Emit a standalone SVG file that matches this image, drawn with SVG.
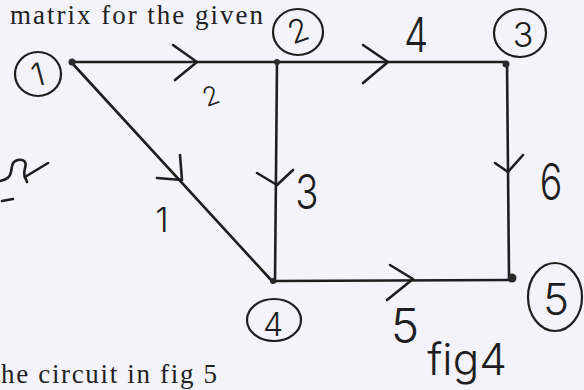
<svg xmlns="http://www.w3.org/2000/svg" width="584" height="390" viewBox="0 0 584 390">
<style>
.bg{fill:#f3f3f9}
.edge{stroke:#1e1e1e;stroke-width:2.6;fill:none;stroke-linecap:round}
.arr{stroke:#1e1e1e;stroke-width:2.6;fill:none;stroke-linecap:round;stroke-linejoin:round}
.ring{stroke:#1e1e1e;stroke-width:2.2;fill:none}
.dot{fill:#2a2a2a}
.hand{font-family:Inter,"DejaVu Sans","Liberation Sans",sans-serif;font-weight:300;fill:#1e1e1e;text-anchor:middle;font-variant-ligatures:none}
.print{font-family:"Liberation Serif",serif;fill:#222;font-size:27px}
</style>
<rect class="bg" x="0" y="0" width="584" height="390"/>
<text class="print" x="10" y="24" textLength="253" lengthAdjust="spacing">matrix for the given</text>
<text class="print" x="1" y="383" textLength="216" lengthAdjust="spacing">he circuit in fig 5</text>
<g id="connectors">
  <g id="e1-2"><line class="edge" x1="72" y1="62" x2="277" y2="62"/><polyline class="arr" points="173,45 197,62 175,80"/><text class="hand" x="211" y="105" font-size="26" transform="rotate(-20 211 96)">2</text></g>
  <g id="e2-3"><line class="edge" x1="277" y1="62" x2="505" y2="62"/><polyline class="arr" points="363,45 388,62 363,83"/><text class="hand" x="416" y="52" font-size="48" transform="translate(416 0) scale(0.8 1) translate(-416 0)">4</text></g>
  <g id="e1-4"><line class="edge" x1="72" y1="63" x2="272" y2="281"/><polyline class="arr" points="157,178 182,180 180,155"/><text class="hand" x="162" y="232" font-size="34">1</text></g>
  <g id="e2-4"><line class="edge" x1="277" y1="62" x2="275" y2="282"/><polyline class="arr" points="257,173 277,185 293,170"/><text class="hand" x="307" y="209" font-size="48" transform="translate(307 0) scale(0.8 1) translate(-307 0)">3</text></g>
  <g id="e3-5"><line class="edge" x1="507" y1="63" x2="509" y2="276"/><polyline class="arr" points="495,163 508,172 523,155"/><text class="hand" x="551" y="200" font-size="50" transform="translate(551 0) scale(0.75 1) translate(-551 0)">6</text></g>
  <g id="e4-5"><line class="edge" x1="273" y1="281" x2="514" y2="280"/><polyline class="arr" points="390,265 413,279 387,300"/><text class="hand" x="405" y="343" font-size="48">5</text></g>
</g>
<g id="n1"><ellipse class="ring" cx="38" cy="74" rx="23" ry="22"/><text class="hand" x="38" y="86" font-size="32" transform="rotate(-15 38 75)">1</text><circle class="dot" cx="72" cy="62" r="3.5"/></g>
<g id="n2"><ellipse class="ring" cx="298" cy="32" rx="25" ry="23"/><text class="hand" x="298" y="42" font-size="32" transform="rotate(-20 298 30)">2</text><circle class="dot" cx="277" cy="62" r="3"/></g>
<g id="n3"><ellipse class="ring" cx="520" cy="33" rx="26" ry="24"/><text class="hand" x="523" y="47" font-size="34">3</text><circle class="dot" cx="506" cy="64" r="3.5"/></g>
<g id="n4"><ellipse class="ring" cx="274" cy="320" rx="27" ry="21"/><text class="hand" x="273" y="336" font-size="32">4</text><circle class="dot" cx="273" cy="281" r="3"/></g>
<g id="n5"><ellipse class="ring" cx="555" cy="297" rx="27" ry="34"/><text class="hand" x="556" y="315" font-size="44">5</text><circle class="dot" cx="512" cy="278" r="4.5"/></g>
<text class="hand" x="467" y="375" font-size="44">fig4</text>
<path class="edge" d="M0,181 C6,180 10,178 11,172 C12,166 12,161 18,160 C24,159 27,162 25,168 C24,172 24,175 25,178 M25,177 L48,163 M25,177 L27,182" stroke-width="2.4"/>
<line class="edge" x1="2" y1="201" x2="13" y2="199"/>
</svg>
